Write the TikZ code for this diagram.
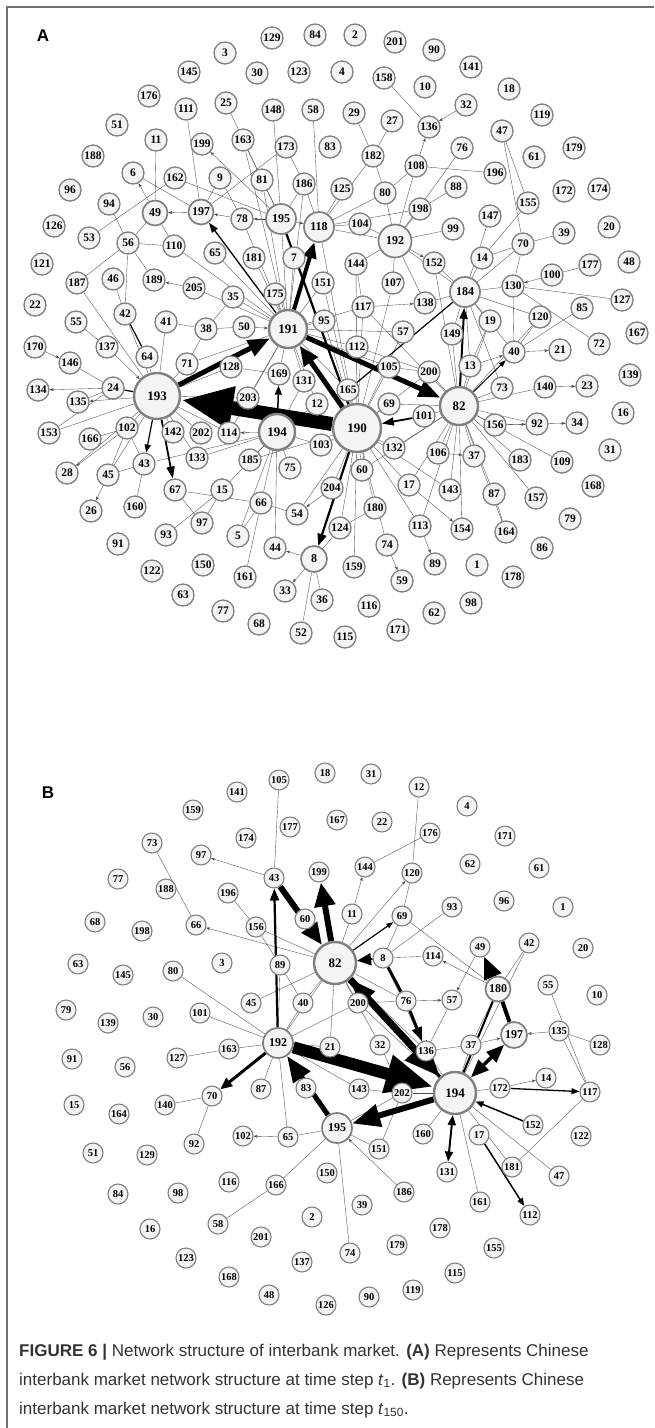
\documentclass[tikz,border=0pt]{standalone}
\usepackage{fontspec}
\setmainfont{Liberation Serif}
\newfontfamily\capfont{Liberation Sans}
\usetikzlibrary{arrows.meta}
\definecolor{ring}{HTML}{808080}
\definecolor{nfill}{HTML}{F4F4F4}
\definecolor{framegray}{HTML}{707070}
\definecolor{capgray}{HTML}{333333}
\pgfdeclarelayer{bg}
\pgfdeclarelayer{edges}
\pgfsetlayers{bg,edges,main}
\tikzset{
 an/.style={circle,draw=ring,line width=1.3pt,fill=nfill,inner sep=0pt,minimum size=22pt,text=black,font=\fontsize{11.5}{12}\selectfont\bfseries},
 bn/.style={an,minimum size=20pt,line width=1.1pt,font=\fontsize{10.5}{11}\selectfont\bfseries},
 hubA/.style={an,minimum size=#1,line width=2.4pt,font=\fontsize{13}{13}\selectfont\bfseries},
 midA/.style={an,minimum size=#1,line width=1.7pt,font=\fontsize{12}{12}\selectfont\bfseries},
 e/.style={draw=black!70,line width=0.35pt},
 ea/.style={e,-{Stealth[length=4pt,width=3pt]}},
 heavy/.style={draw=black,line width=#1},
 panlab/.style={font=\capfont\bfseries\fontsize{17}{17}\selectfont},
 capline/.style={anchor=base west,inner sep=0pt,text=capgray,font=\capfont\fontsize{17}{20}\selectfont},
}
\begin{document}
\begin{tikzpicture}[x=1pt,y=-1pt]
\useasboundingbox (0,0) rectangle (654,1428);
\begin{pgfonlayer}{bg}
\fill[white] (0,0) rectangle (654,1428);
\end{pgfonlayer}
\draw[framegray,line width=1.4pt] (7,1428) -- (7,7) -- (654,7);
\node[panlab] (labA) at (43,36) {A};
\node[panlab] (labB) at (48,793) {B};
% ---------------- Panel A nodes ----------------
\foreach \n/\x/\y in {129/272/38, 84/315/35, 2/355/35, 201/395/42, 90/434/50, 3/225/53, 145/189/72, 30/257/73, 123/299/72, 4/342/72, 158/384/78, 10/425/87, 141/471/67, 18/509/89, 176/149/96, 111/186/109, 25/226/103, 148/273/110, 58/313/110, 29/354/113, 27/392/121, 136/429/127, 32/466/105, 119/542/115, 47/502/131, 51/117/125, 11/156/140, 199/202/144, 163/243/140, 173/286/147, 83/330/147, 182/373/156, 108/416/166, 76/462/148, 179/574/148, 61/534/157, 196/495/173, 188/93/156, 6/133/173, 162/175/178, 9/220/178, 81/262/180, 186/304/184, 125/342/189, 80/385/193, 88/456/187, 172/564/191, 174/599/189, 155/528/203, 198/420/209, 147/490/216, 96/70/190, 94/109/204, 78/242/219, 104/360/224, 99/453/229, 39/564/233, 20/609/227, 70/523/244, 126/54/226, 53/89/238, 56/128/243, 110/174/246, 65/215/253, 181/254/258, 7/294/258, 144/356/264, 152/434/263, 14/482/258, 48/629/262, 177/590/265, 100/552/275, 130/513/286, 121/42/264, 187/77/283, 46/113/279, 189/154/280, 205/194/288, 35/233/297, 175/275/294, 151/323/283, 107/393/283, 127/622/300, 22/35/305, 42/125/314, 55/76/322, 41/166/322, 38/206/329, 50/244/327, 95/324/321, 117/363/307, 138/425/303, 85/582/308, 19/490/321, 120/540/317, 57/403/332, 149/452/334, 167/637/333, 72/599/344, 170/35/347, 137/107/347, 64/147/357, 146/70/363, 71/187/364, 128/231/367, 169/279/374, 131/304/381, 112/357/347, 40/514/352, 21/560/350, 105/389/367, 200/429/372, 13/470/366, 139/630/375, 134/38/390, 24/113/388, 135/78/402, 203/248/398, 12/317/404, 165/348/390, 73/502/388, 140/545/387, 23/587/386, 69/389/404, 101/424/416, 16/623/413, 153/49/433, 166/90/439, 102/127/428, 142/173/432, 202/201/433, 114/229/433, 156/495/425, 92/537/424, 34/577/423, 133/197/458, 185/250/460, 75/290/468, 103/321/445, 132/394/448, 106/438/453, 37/474/456, 183/520/460, 109/562/462, 31/610/450, 43/144/464, 28/67/473, 45/108/475, 60/362/470, 17/409/485, 143/450/490, 87/494/494, 157/536/498, 168/593/486, 67/175/490, 15/222/490, 204/332/488, 26/91/511, 160/135/507, 66/261/503, 54/297/514, 180/375/508, 124/340/528, 113/420/526, 154/462/529, 164/506/532, 79/570/519, 93/166/535, 97/202/523, 5/238/536, 44/275/548, 74/387/545, 86/542/548, 91/118/544, 122/152/571, 150/203/565, 161/245/577, 159/354/567, 89/435/564, 1/477/565, 178/513/577, 33/285/591, 36/322/600, 59/402/581, 63/183/595, 77/223/611, 68/259/624, 52/301/633, 116/369/606, 62/434/613, 98/471/603, 115/345/637, 171/398/630}
  \node[an] (a\n) at (\x,\y) {\n};
\foreach \n/\x/\y/\s in {193/157/396/46pt, 190/357/428/48pt, 191/288/329/38pt, 194/277/432/36pt, 82/459/406/38pt}
  \node[hubA=\s] (a\n) at (\x,\y) {\n};
\foreach \n/\x/\y/\s in {192/395/241/33pt, 195/281/219/30pt, 118/319/227/30pt, 184/465/292/30pt, 197/201/212/25pt, 49/155/213/25pt, 8/314/559/26pt}
  \node[midA=\s] (a\n) at (\x,\y) {\n};
% ---------------- Panel B nodes ----------------
\foreach \n/\x/\y in {105/279/780, 18/325/773, 31/371/774, 12/419/787, 141/237/792, 4/467/806, 159/193/810, 167/337/820, 22/382/822, 177/290/827, 176/430/833, 171/505/836, 174/246/838, 73/152/843, 97/201/855, 144/365/867, 120/412/873, 62/470/864, 61/539/868, 43/274/878, 199/319/872, 77/118/879, 188/166/889, 196/228/893, 96/504/901, 1/563/907, 93/452/907, 11/352/914, 69/402/916, 60/305/919, 68/95/922, 198/142/931, 66/196/925, 156/256/927, 8/383/958, 114/433/956, 49/480/947, 42/529/943, 20/583/948, 63/78/964, 145/123/975, 80/173/971, 3/222/963, 89/280/965, 55/548/985, 10/597/995, 45/251/1003, 40/303/1003, 200/358/1003, 76/406/1001, 57/452/1000, 79/66/1010, 101/200/1013, 30/153/1017, 139/108/1023, 135/559/1031, 128/600/1045, 21/330/1047, 32/380/1045, 136/426/1051, 37/471/1045, 163/229/1049, 127/177/1058, 91/72/1059, 56/125/1067, 87/261/1089, 83/306/1088, 14/546/1078, 143/359/1089, 202/402/1093, 172/500/1088, 117/590/1092, 70/212/1096, 140/165/1105, 15/74/1105, 164/119/1114, 160/423/1134, 17/479/1135, 152/533/1125, 122/581/1136, 102/243/1136, 65/288/1137, 92/194/1144, 51/93/1153, 129/147/1155, 151/379/1149, 131/447/1172, 181/512/1167, 47/559/1176, 150/327/1173, 116/229/1182, 166/276/1185, 186/404/1192, 161/480/1202, 112/530/1215, 39/362/1205, 98/178/1193, 84/118/1194, 2/312/1217, 58/218/1224, 16/150/1229, 178/440/1228, 201/261/1237, 179/397/1245, 155/494/1248, 74/350/1253, 123/186/1258, 137/302/1262, 115/455/1273, 168/229/1277, 119/413/1290, 48/269/1295, 126/326/1305, 90/369/1297}
  \node[bn] (b\n) at (\x,\y) {\n};
\foreach \n/\x/\y/\s in {82/335/963/42pt, 194/455/1093/42pt}
  \node[hubA=\s] (b\n) at (\x,\y) {\n};
\foreach \n/\x/\y/\s in {192/278/1043/30pt, 195/337/1128/30pt, 197/514/1035/26pt, 180/498/989/25pt}
  \node[midA=\s] (b\n) at (\x,\y) {\n};
% ---------------- Edges ----------------
\begin{pgfonlayer}{edges}
% Panel A thin edges
\foreach \s/\t in {111/197, 25/81, 163/195, 148/195, 58/118, 11/49, 173/197, 173/186, 53/162, 162/195, 6/197, 9/197, 9/78, 81/195, 186/195, 186/118, 94/56, 49/56, 49/110, 56/110, 56/42, 56/189, 110/191, 65/191, 181/191, 7/191, 187/193, 187/56, 46/42, 205/191, 35/191, 35/38, 175/191, 42/193, 55/137, 41/38, 41/193, 38/50, 38/71, 146/24, 64/193, 71/193, 71/191, 128/193, 128/169, 135/24, 203/193, 203/191, 153/193, 166/102, 102/193, 45/102, 45/193, 142/193, 202/193, 114/193, 133/194, 185/194, 15/194, 75/194, 43/45, 131/194, 131/191, 12/194, 12/191, 144/192, 144/117, 152/184, 14/184, 14/70, 70/184, 70/130, 177/100, 130/184, 130/127, 130/72, 130/40, 107/192, 107/190, 184/138, 184/149, 184/19, 184/120, 184/192, 117/191, 117/190, 85/40, 19/13, 120/40, 57/191, 149/82, 112/191, 112/200, 105/191, 105/200, 105/190, 200/82, 13/82, 165/190, 73/82, 140/82, 69/82, 69/190, 82/101, 156/82, 92/82, 132/190, 132/82, 106/82, 37/82, 183/82, 109/82, 60/190, 17/190, 143/190, 143/82, 204/190, 87/82, 87/164, 157/82, 180/190, 180/124, 124/190, 124/8, 113/190, 113/82, 74/190, 159/190, 160/43, 67/66, 67/97, 15/93, 15/97, 66/54, 66/194, 66/5, 66/161, 44/194, 8/36, 8/52, 5/194, 158/136, 29/182, 27/182, 182/80, 182/118, 108/196, 108/80, 76/192, 47/70, 125/118, 80/118, 80/192, 88/198, 198/118, 198/192, 155/14, 147/184, 104/118, 104/192, 99/192, 39/70, 192/118, 117/82, 138/192, 152/82, 95/191, 95/190, 151/191, 151/190, 144/190, 57/190, 200/190, 13/184, 19/82, 40/184, 120/82, 73/184, 103/194, 103/190, 185/190, 54/190, 186/191, 81/191, 78/191, 163/191, 195/191, 118/190, 165/191, 169/191, 203/194, 114/191, 133/193, 102/43, 28/193, 153/24, 43/194, 60/82, 17/82, 154/82, 164/82, 108/192, 47/155}
  \draw[e] (a\s) -- (a\t);
\foreach \s/\t in {197/49, 78/197, 195/78, 195/118, 195/199, 49/6, 205/189, 50/191, 170/146, 24/134, 193/135, 194/114, 102/28, 45/26, 117/138, 192/152, 13/40, 32/136, 108/136, 17/154, 204/54, 8/44, 8/33, 74/59, 113/89, 140/23, 40/21, 156/34, 156/92, 106/37, 100/130, 137/193}
  \draw[ea] (a\s) -- (a\t);
% Panel A heavy edges
\draw[heavy=14pt,-{Triangle[length=52pt,width=40pt]}] (a190) -- (a193);
\draw[heavy=5pt,-{Triangle[length=22pt,width=17pt]}] (a193) -- (a191);
\draw[heavy=5pt,-{Triangle[length=20pt,width=16pt]}] (a190) -- (a191);
\draw[heavy=4pt,-{Triangle[length=16pt,width=13pt]}] (a191) -- (a118);
\draw[heavy=5pt,-{Triangle[length=22pt,width=16pt]}] (a191) -- (a82);
\draw[heavy=2pt,-{Triangle[length=11pt,width=8pt]}] (a82) -- (a184);
\draw[heavy=1.8pt,-{Triangle[length=12pt,width=8pt]}] (a101) -- (a190);
\draw[heavy=1.5pt,-{Triangle[length=9pt,width=7pt]}] (a194) -- (a169);
\draw[heavy=2.2pt,-{Triangle[length=12pt,width=9pt]}] (a190) -- (a8);
\draw[heavy=1.8pt,-{Triangle[length=12pt,width=8pt]}] (a193) -- (a67);
\draw[heavy=1.3pt,-{Triangle[length=10pt,width=7pt]}] (a191) -- (a197);
\draw[heavy=1.2pt,-{Triangle[length=8pt,width=6pt]}] (a193) -- (a43);
\draw[heavy=1pt,-{Triangle[length=7pt,width=5pt]}] (a82) -- (a40);
\draw[heavy=2.2pt] (a195) -- (a190);
\draw[heavy=1.2pt] (a165) -- (a184);
\draw[heavy=1.2pt] (a42) -- (a64);
\draw[heavy=1.2pt] (a24) -- (a193);
% Panel B thin edges
\foreach \s/\t in {105/43, 73/66, 196/156, 156/82, 156/89, 80/192, 101/192, 163/192, 127/163, 45/82, 89/192, 89/40, 40/82, 40/192, 12/120, 120/69, 176/144, 11/82, 93/8, 69/8, 69/180, 8/114, 42/180, 42/194, 55/117, 82/76, 200/76, 200/82, 200/192, 32/82, 32/202, 21/82, 21/192, 143/202, 143/192, 202/194, 202/195, 202/151, 136/37, 37/194, 135/128, 135/117, 172/194, 117/181, 47/194, 181/194, 161/194, 160/194, 151/195, 74/195, 166/195, 58/166, 65/195, 65/192, 87/192, 140/70, 70/92, 82/192, 136/194, 136/82, 200/194, 57/136, 180/37, 8/136}
  \draw[e] (b\s) -- (b\t);
\foreach \s/\t in {43/97, 82/66, 82/120, 11/144, 180/114, 49/57, 76/57, 37/197, 135/197, 172/14, 186/195, 65/102}
  \draw[ea] (b\s) -- (b\t);
% Panel B heavy edges
\draw[heavy=12pt,-{Triangle[length=48pt,width=36pt]}] (b192) -- (b194);
\draw[heavy=7pt,-{Triangle[length=36pt,width=28pt]}] (b82) -- (b194);
\draw[heavy=3pt,-{Triangle[length=26pt,width=20pt]}] (b194) -- (b82);
\draw[heavy=6pt,-{Triangle[length=22pt,width=18pt]}] (b43) -- (b82);
\draw[heavy=6pt,-{Triangle[length=24pt,width=20pt]}] (b82) -- (b199);
\draw[heavy=2.2pt,-{Triangle[length=12pt,width=9pt]}] (b192) -- (b43);
\draw[heavy=2pt,-{Triangle[length=14pt,width=12pt]}] (b8) -- (b82);
\draw[heavy=3pt] (b8) -- (b76);
\draw[heavy=3pt,-{Triangle[length=14pt,width=10pt]}] (b76) -- (b136);
\draw[heavy=4pt] (b197) -- (b180);
\draw[heavy=3.5pt,-{Triangle[length=22pt,width=18pt]}] (b180) -- (b49);
\draw[heavy=3.5pt,{Triangle[length=18pt,width=14pt]}-{Triangle[length=18pt,width=14pt]}] (b194) -- (b197);
\draw[heavy=6pt,-{Triangle[length=28pt,width=22pt]}] (b194) -- (b195);
\draw[heavy=5pt,-{Triangle[length=26pt,width=20pt]}] (b195) -- (b192);
\draw[heavy=3pt,-{Triangle[length=12pt,width=10pt]}] (b192) -- (b70);
\draw[heavy=2pt,{Triangle[length=10pt,width=8pt]}-{Triangle[length=10pt,width=8pt]}] (b194) -- (b131);
\draw[heavy=1.5pt,-{Triangle[length=8pt,width=6pt]}] (b17) -- (b112);
\draw[heavy=1.5pt,-{Triangle[length=8pt,width=6pt]}] (b152) -- (b194);
\draw[heavy=1.3pt,-{Triangle[length=8pt,width=6pt]}] (b172) -- (b117);
\draw[heavy=2pt] (b180) -- (b194);
\draw[heavy=1.2pt,-{Triangle[length=7pt,width=5pt]}] (b82) -- (b69);
\end{pgfonlayer}
% ---------------- Caption ----------------
\node[capline] (cap1) at (19,1356) {\textbf{FIGURE 6 |} Network structure of interbank market. \textbf{(A)} Represents Chinese};
\node[capline] (cap2) at (19,1385) {interbank market network structure at time step \textit{t}\textsubscript{1}. \textbf{(B)} Represents Chinese};
\node[capline] (cap3) at (19,1414) {interbank market network structure at time step \textit{t}\textsubscript{150}.};
\end{tikzpicture}
\end{document}
